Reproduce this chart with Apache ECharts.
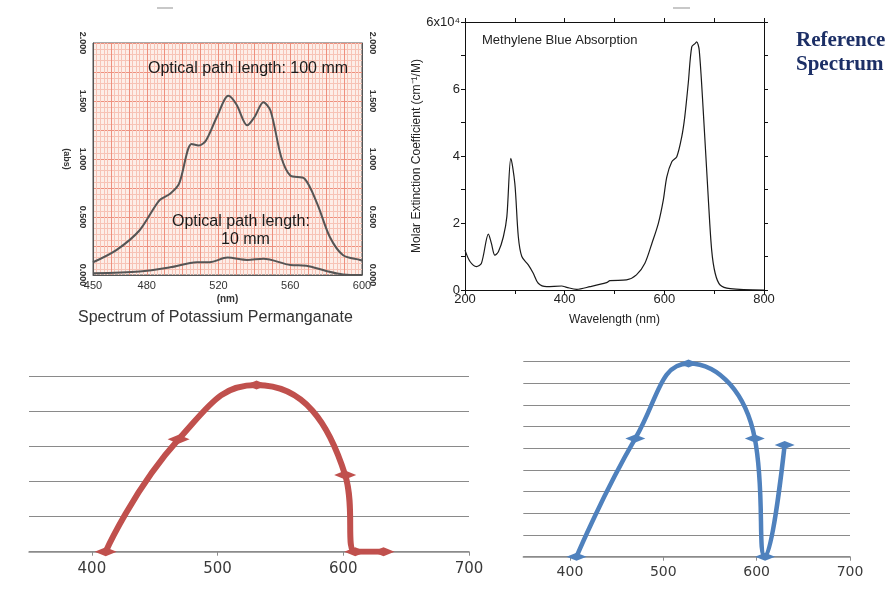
<!DOCTYPE html>
<html><head><meta charset="utf-8">
<script src="https://cdn.jsdelivr.net/npm/echarts@6/dist/echarts.min.js"></script>
<style>html,body{margin:0;padding:0;background:#fff}#c{width:893px;height:599px}</style>
</head><body><div id="c"></div>
<script>
// ---- Potassium permanganate spectrum (abs vs nm) ----
const kmnoX100 = [450,463,476,487,493,498,505,509,513,519,525.5,530,536,540,545,549,555,560,568,575,582,589.5,599,600];
const kmnoY100 = [0.11,0.215,0.386,0.644,0.70,0.787,1.13,1.116,1.16,1.36,1.545,1.47,1.29,1.36,1.49,1.416,1.015,0.858,0.83,0.615,0.33,0.17,0.13,0.125];
const kmnoX10 = [450,476,493,508,515,525,536,545,560,569,580,589.5,600];
const kmnoY10 = [0.015,0.03,0.066,0.11,0.11,0.15,0.13,0.14,0.086,0.08,0.035,0.005,0];
const kmnoXLabels = [450,480,520,560,600];
// ---- Methylene blue absorption (x10^4 cm-1/M vs nm) ----
const mbX = [200,210,223,233,247,253,260,267,277,284,292,300,307,314,327,337,347,364,394,404,424,451,484,491,524,544,561,575,588,598,605,615,625,635,641,648,655,662,665,670,678,688,695,702,712,732,800];
const mbY = [1.19,0.85,0.70,0.80,1.67,1.39,1.04,1.14,1.59,2.19,3.93,3.18,1.59,1.0,0.75,0.50,0.20,0.10,0.12,0.08,0.02,0.10,0.22,0.28,0.30,0.45,0.80,1.39,1.99,2.69,3.38,3.83,3.98,4.58,5.17,6.17,7.26,7.36,7.41,7.16,5.37,2.79,1.19,0.50,0.15,0.04,0];
const mbYLabels = {0:'0',2:'2',4:'4',6:'6',8:'6x10\u2074'};
// ---- Student spectra (bottom) ----
const redX = [411,469,531,601.5,609.5,632];
const redY = [0,3.21,4.76,2.19,0,0];
const blueX = [407,470,527,598,609,630];
const blueY = [0,5.46,8.92,5.46,0,5.15];
const bottomXLabels = [400,500,600,700];

const zip = (a,b) => a.map((v,i)=>[v,b[i]]);
const chart = echarts.init(document.getElementById('c'), null, {renderer:'canvas'});
const SANS = 'Liberation Sans';
const paperMajor = '#ee907e', paperMinor = '#f7c3b6';

const option = {
  animation:false,
  backgroundColor:'#fff',
  grid:[
    {left:93, top:43, width:269, height:232, show:true, backgroundColor:'#fdeee8', borderColor:'#555', borderWidth:1},
    {left:465, top:22, width:299, height:268},
    {left:29, top:376.7, width:440, height:175},
    {left:523.3, top:361.7, width:326.7, height:195}
  ],
  xAxis:[
    {gridIndex:0, type:'value', min:450, max:600, interval:10, position:'bottom',
     axisLine:{show:true, lineStyle:{color:'#555'}}, axisTick:{show:false},
     axisLabel:{fontFamily:SANS, fontSize:11, color:'#333', margin:5,
       formatter:v=>kmnoXLabels.includes(v)?String(v):''},
     splitLine:{show:true, lineStyle:{color:paperMajor, width:1}},
     minorTick:{show:false, splitNumber:5},
     minorSplitLine:{show:true, lineStyle:{color:paperMinor, width:1}},
     name:'(nm)', nameLocation:'middle', nameGap:19,
     nameTextStyle:{fontFamily:SANS, fontSize:10, fontWeight:'bold', color:'#333'}},
    {gridIndex:1, type:'value', min:200, max:800, interval:100, position:'bottom',
     axisLine:{show:true, onZero:false, lineStyle:{color:'#111'}},
     axisTick:{show:true, inside:false, length:4, lineStyle:{color:'#111'}},
     axisLabel:{fontFamily:SANS, fontSize:13, color:'#222', margin:3,
       formatter:v=>(v%200===0)?String(v):''},
     splitLine:{show:false},
     name:'Wavelength (nm)', nameLocation:'middle', nameGap:24,
     nameTextStyle:{fontFamily:SANS, fontSize:12, color:'#222'}},
    {gridIndex:1, type:'value', min:200, max:800, interval:100, position:'top',
     axisLine:{show:true, onZero:false, lineStyle:{color:'#111'}},
     axisTick:{show:true, length:4, lineStyle:{color:'#111'}},
     axisLabel:{show:false}, splitLine:{show:false}},
    {gridIndex:2, type:'value', min:350, max:700, interval:50,
     axisLine:{show:true, onZero:false, lineStyle:{color:'#8c8c8c', width:1.5}},
     axisTick:{show:true, length:4, customValues:bottomXLabels, lineStyle:{color:'#8c8c8c'}},
     axisLabel:{customValues:bottomXLabels, fontFamily:'DejaVu Sans', fontSize:15, color:'#3a3a3a', margin:10,
       formatter:v=>bottomXLabels.includes(v)?String(v):''},
     splitLine:{show:false}},
    {gridIndex:3, type:'value', min:350, max:700, interval:50,
     axisLine:{show:true, onZero:false, lineStyle:{color:'#8c8c8c', width:1.5}},
     axisTick:{show:true, length:4, customValues:bottomXLabels, lineStyle:{color:'#8c8c8c'}},
     axisLabel:{customValues:bottomXLabels, fontFamily:'DejaVu Sans', fontSize:14, color:'#3a3a3a', margin:9,
       formatter:v=>bottomXLabels.includes(v)?String(v):''},
     splitLine:{show:false}}
  ],
  yAxis:[
    {gridIndex:0, type:'value', min:0, max:2, interval:0.25, position:'left',
     axisLine:{show:true, lineStyle:{color:'#555'}}, axisTick:{show:false},
     axisLabel:{rotate:-90, fontFamily:SANS, fontSize:9, fontWeight:'bold', color:'#333', margin:6,
       formatter:v=>(Math.abs(v*2-Math.round(v*2))<1e-6)?v.toFixed(3):''},
     splitLine:{show:true, lineStyle:{color:paperMajor, width:1}},
     minorTick:{show:false, splitNumber:5},
     minorSplitLine:{show:true, lineStyle:{color:paperMinor, width:1}},
     name:'(abs)', nameLocation:'middle', nameGap:22, nameRotate:-90,
     nameTextStyle:{fontFamily:SANS, fontSize:9, fontWeight:'bold', color:'#333'}},
    {gridIndex:0, type:'value', min:0, max:2, interval:0.25, position:'right',
     axisLine:{show:true, lineStyle:{color:'#555'}}, axisTick:{show:false},
     axisLabel:{rotate:-90, fontFamily:SANS, fontSize:9, fontWeight:'bold', color:'#333', margin:6,
       formatter:v=>(Math.abs(v*2-Math.round(v*2))<1e-6)?v.toFixed(3):''},
     splitLine:{show:false}},
    {gridIndex:1, type:'value', min:0, max:8, interval:1, position:'left',
     axisLine:{show:true, onZero:false, lineStyle:{color:'#111'}},
     axisTick:{show:true, length:4, lineStyle:{color:'#111'}},
     axisLabel:{fontFamily:SANS, fontSize:13, color:'#222', margin:5,
       formatter:v=>mbYLabels[v]!==undefined?mbYLabels[v]:''},
     splitLine:{show:false},
     name:'Molar Extinction Coefficient (cm\u207B\u00B9/M)', nameLocation:'middle', nameGap:37,
     nameTextStyle:{fontFamily:SANS, fontSize:12, color:'#222'}},
    {gridIndex:1, type:'value', min:0, max:8, interval:1, position:'right',
     axisLine:{show:true, onZero:false, lineStyle:{color:'#111'}},
     axisTick:{show:true, length:4, lineStyle:{color:'#111'}},
     axisLabel:{show:false}, splitLine:{show:false}},
    {gridIndex:2, type:'value', min:0, max:5, interval:1,
     axisLine:{show:false}, axisTick:{show:false}, axisLabel:{show:false},
     splitLine:{show:true, lineStyle:{color:'#8a8a8a', width:1}}},
    {gridIndex:3, type:'value', min:0, max:9, interval:1,
     axisLine:{show:false}, axisTick:{show:false}, axisLabel:{show:false},
     splitLine:{show:true, lineStyle:{color:'#8a8a8a', width:1}}}
  ],
  series:[
    {type:'line', xAxisIndex:0, yAxisIndex:0, data:zip(kmnoX100,kmnoY100), smooth:0.3, showSymbol:false,
     lineStyle:{color:'#555', width:2}},
    {type:'line', xAxisIndex:0, yAxisIndex:0, data:zip(kmnoX10,kmnoY10), smooth:0.3, showSymbol:false,
     lineStyle:{color:'#555', width:2}},
    {type:'line', xAxisIndex:1, yAxisIndex:2, data:zip(mbX,mbY), smooth:0.3, showSymbol:false,
     lineStyle:{color:'#1a1a1a', width:1.2}},
    {type:'line', xAxisIndex:3, yAxisIndex:4, data:zip(redX,redY), smooth:0.5,
     symbol:'diamond', symbolSize:[22,9], itemStyle:{color:'#c0504d'},
     lineStyle:{color:'#c0504d', width:6}},
    {type:'line', xAxisIndex:4, yAxisIndex:5, data:zip(blueX,blueY), smooth:0.5,
     symbol:'diamond', symbolSize:[20,8], itemStyle:{color:'#4f81bd'},
     lineStyle:{color:'#4f81bd', width:4.5}}
  ],
  graphic:[
    {type:'text', z:100, left:148, top:61, style:{text:'Optical path length: 100 mm', font:'16px "Liberation Sans"', fill:'#1a1a1a'}},
    {type:'text', z:100, left:172, top:214, style:{text:'Optical path length:', font:'16px "Liberation Sans"', fill:'#1a1a1a'}},
    {type:'text', z:100, left:221, top:232, style:{text:'10 mm', font:'16px "Liberation Sans"', fill:'#1a1a1a'}},
    {type:'text', z:100, left:78, top:310, style:{text:'Spectrum of Potassium Permanganate', font:'16px "Liberation Sans"', fill:'#333'}},
    {type:'text', z:100, left:482, top:34, style:{text:'Methylene Blue Absorption', font:'13px "Liberation Sans"', fill:'#222'}},
    {type:'text', z:100, left:796, top:30, style:{text:'Reference', font:'bold 21px "Liberation Serif"', fill:'#1c2f66'}},
    {type:'text', z:100, left:796, top:54, style:{text:'Spectrum', font:'bold 21px "Liberation Serif"', fill:'#1c2f66'}},
    {type:'line', z:100, shape:{x1:157, y1:8, x2:173, y2:8}, style:{stroke:'#c8c8c8', lineWidth:2}},
    {type:'line', z:100, shape:{x1:673, y1:8, x2:690, y2:8}, style:{stroke:'#c8c8c8', lineWidth:2}}
  ]
};
chart.setOption(option);
</script></body></html>
